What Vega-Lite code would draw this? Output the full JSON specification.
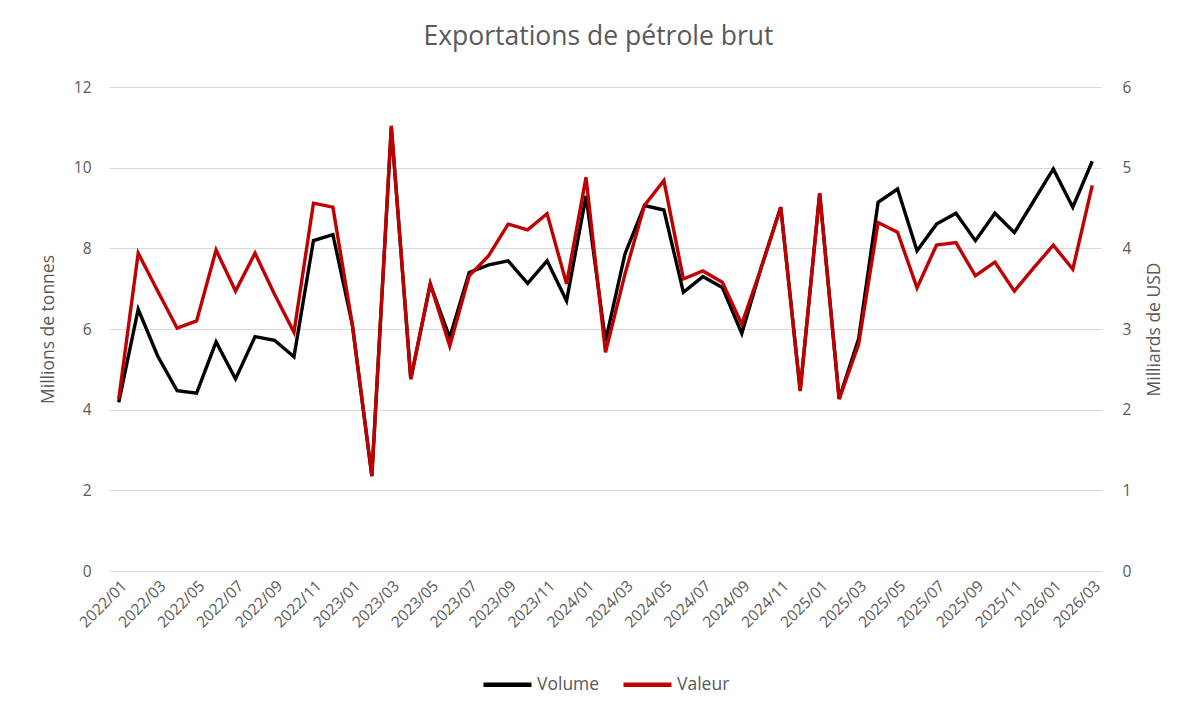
{
  "$schema": "https://vega.github.io/schema/vega-lite/v6.json",
  "autosize": {"type": "none"},
  "width": 993,
  "height": 484,
  "padding": {"left": 109, "top": 87, "right": 88, "bottom": 141},
  "background": "white",
  "config": {
    "font": "Open Sans",
    "view": {"stroke": null},
    "axis": {"labelColor": "#595959", "titleColor": "#595959", "labelFont": "Open Sans", "titleFont": "Open Sans", "titleFontWeight": "normal"}
  },
  "title": {
    "text": "Exportations de pétrole brut",
    "fontSize": 26.5,
    "fontWeight": "normal",
    "color": "#595959",
    "font": "Open Sans",
    "anchor": "middle",
    "baseline": "alphabetic",
    "offset": 9,
    "dx": -7
  },
  "data": {
    "values": [
      {"mois": "2022/01", "volume": 4.18, "valeur": 2.13},
      {"mois": "2022/02", "volume": 6.49, "valeur": 3.94},
      {"mois": "2022/03", "volume": 5.33, "valeur": 3.47},
      {"mois": "2022/04", "volume": 4.47, "valeur": 3.01},
      {"mois": "2022/05", "volume": 4.41, "valeur": 3.10},
      {"mois": "2022/06", "volume": 5.68, "valeur": 3.98},
      {"mois": "2022/07", "volume": 4.76, "valeur": 3.47},
      {"mois": "2022/08", "volume": 5.81, "valeur": 3.94},
      {"mois": "2022/09", "volume": 5.72, "valeur": 3.43},
      {"mois": "2022/10", "volume": 5.31, "valeur": 2.96},
      {"mois": "2022/11", "volume": 8.19, "valeur": 4.56},
      {"mois": "2022/12", "volume": 8.34, "valeur": 4.51},
      {"mois": "2023/01", "volume": 6.10, "valeur": 3.05},
      {"mois": "2023/02", "volume": 2.35, "valeur": 1.18},
      {"mois": "2023/03", "volume": 11.0, "valeur": 5.52},
      {"mois": "2023/04", "volume": 4.76, "valeur": 2.38},
      {"mois": "2023/05", "volume": 7.11, "valeur": 3.56},
      {"mois": "2023/06", "volume": 5.79, "valeur": 2.79},
      {"mois": "2023/07", "volume": 7.40, "valeur": 3.66},
      {"mois": "2023/08", "volume": 7.59, "valeur": 3.91},
      {"mois": "2023/09", "volume": 7.69, "valeur": 4.30},
      {"mois": "2023/10", "volume": 7.13, "valeur": 4.23},
      {"mois": "2023/11", "volume": 7.69, "valeur": 4.43},
      {"mois": "2023/12", "volume": 6.70, "valeur": 3.56},
      {"mois": "2024/01", "volume": 9.30, "valeur": 4.88},
      {"mois": "2024/02", "volume": 5.70, "valeur": 2.71},
      {"mois": "2024/03", "volume": 7.86, "valeur": 3.68},
      {"mois": "2024/04", "volume": 9.06, "valeur": 4.53},
      {"mois": "2024/05", "volume": 8.95, "valeur": 4.84},
      {"mois": "2024/06", "volume": 6.91, "valeur": 3.62},
      {"mois": "2024/07", "volume": 7.30, "valeur": 3.72},
      {"mois": "2024/08", "volume": 7.03, "valeur": 3.58},
      {"mois": "2024/09", "volume": 5.89, "valeur": 3.06},
      {"mois": "2024/10", "volume": 7.53, "valeur": 3.76},
      {"mois": "2024/11", "volume": 9.02, "valeur": 4.51},
      {"mois": "2024/12", "volume": 4.48, "valeur": 2.23},
      {"mois": "2025/01", "volume": 9.36, "valeur": 4.68},
      {"mois": "2025/02", "volume": 4.27, "valeur": 2.13},
      {"mois": "2025/03", "volume": 5.76, "valeur": 2.81},
      {"mois": "2025/04", "volume": 9.14, "valeur": 4.32},
      {"mois": "2025/05", "volume": 9.47, "valeur": 4.20},
      {"mois": "2025/06", "volume": 7.94, "valeur": 3.51},
      {"mois": "2025/07", "volume": 8.60, "valeur": 4.04},
      {"mois": "2025/08", "volume": 8.87, "valeur": 4.07},
      {"mois": "2025/09", "volume": 8.19, "valeur": 3.66},
      {"mois": "2025/10", "volume": 8.87, "valeur": 3.83},
      {"mois": "2025/11", "volume": 8.39, "valeur": 3.47},
      {"mois": "2025/12", "volume": 9.18, "valeur": 3.76},
      {"mois": "2026/01", "volume": 9.97, "valeur": 4.04},
      {"mois": "2026/02", "volume": 9.02, "valeur": 3.74},
      {"mois": "2026/03", "volume": 10.16, "valeur": 4.78}
    ]
  },
  "encoding": {
    "x": {
      "field": "mois",
      "type": "ordinal",
      "sort": null,
      "scale": {"type": "point", "padding": 0.5},
      "axis": {
        "title": null,
        "labelAngle": -45,
        "labelFontSize": 15.5,
        "labelPadding": 7,
        "ticks": false,
        "domain": false,
        "grid": false,
        "values": ["2022/01","2022/03","2022/05","2022/07","2022/09","2022/11","2023/01","2023/03","2023/05","2023/07","2023/09","2023/11","2024/01","2024/03","2024/05","2024/07","2024/09","2024/11","2025/01","2025/03","2025/05","2025/07","2025/09","2025/11","2026/01","2026/03"]
      }
    }
  },
  "layer": [
    {
      "mark": {"type": "line", "strokeWidth": 3.4, "strokeJoin": "miter", "strokeCap": "butt"},
      "encoding": {
        "y": {
          "field": "volume",
          "type": "quantitative",
          "scale": {"domain": [0, 12], "nice": false},
          "axis": {
            "title": "Millions de tonnes",
            "titleFontSize": 17.5,
            "titlePadding": 16,
            "labelFontSize": 15.5,
            "labelPadding": 18,
            "values": [0, 2, 4, 6, 8, 10, 12],
            "ticks": false,
            "domain": false,
            "grid": true,
            "gridColor": "#d9d9d9",
            "gridWidth": 1.2
          }
        },
        "color": {
          "datum": "Volume",
          "type": "nominal",
          "scale": {"domain": ["Volume", "Valeur"], "range": ["#000000", "#c00000"]},
          "legend": {
            "title": null,
            "orient": "none",
            "direction": "horizontal",
            "legendX": 372,
            "legendY": 571,
            "symbolType": "stroke",
            "symbolSize": 2304,
            "symbolStrokeWidth": 4.5,
            "labelFontSize": 17.5,
            "labelColor": "#595959",
            "labelFont": "Open Sans",
            "labelOffset": 3,
            "columnPadding": 14
          }
        }
      }
    },
    {
      "mark": {"type": "line", "strokeWidth": 3.4, "strokeJoin": "miter", "strokeCap": "butt"},
      "encoding": {
        "y": {
          "field": "valeur",
          "type": "quantitative",
          "scale": {"domain": [0, 6], "nice": false},
          "axis": {
            "orient": "right",
            "title": "Milliards de USD",
            "titleAngle": 270,
            "titleFontSize": 17.5,
            "titlePadding": 33,
            "labelFontSize": 15.5,
            "labelPadding": 20,
            "values": [0, 1, 2, 3, 4, 5, 6],
            "ticks": false,
            "domain": false,
            "grid": false
          }
        },
        "color": {"datum": "Valeur", "type": "nominal"}
      }
    }
  ],
  "resolve": {"scale": {"y": "independent"}}
}
